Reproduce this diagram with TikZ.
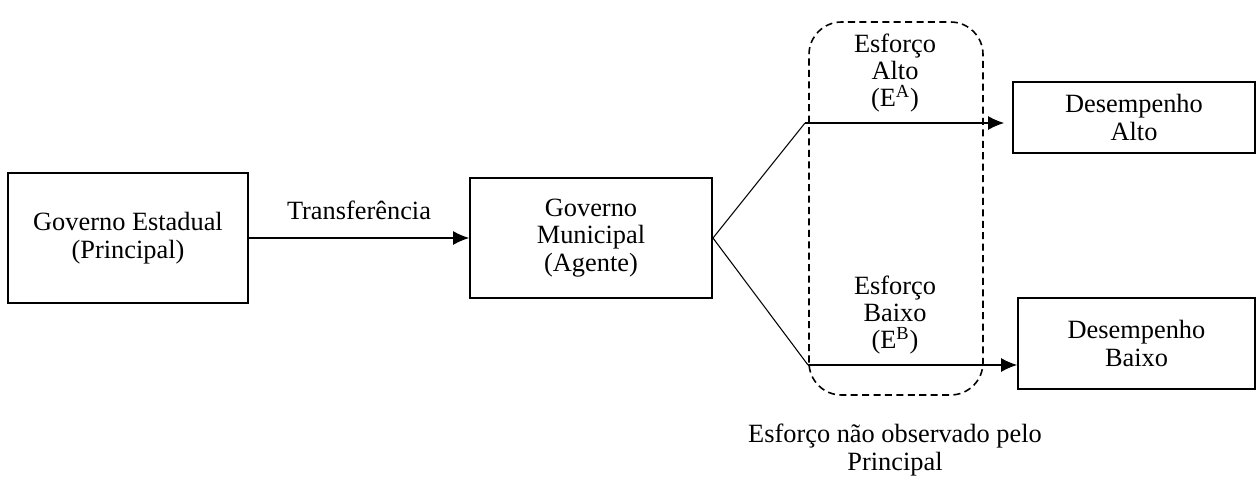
\documentclass[tikz,border=0pt]{standalone}
\usepackage{fontspec}
\setmainfont{Liberation Serif}
\usetikzlibrary{arrows.meta}

\tikzset{
  govbox/.style={draw, line width=1.1pt, align=center, inner sep=2pt},
  conn/.style={line width=0.6pt},
  arr/.style={conn, -{Latex[length=3.2mm,width=2.8mm]}},
  lbl/.style={align=center, inner sep=1pt}
}

\begin{document}
\begin{tikzpicture}[font=\fontsize{15}{15.6}\selectfont]
\useasboundingbox (0,0) rectangle (25.14,9.6);
% boxes
\node[govbox, minimum width=4.8cm, minimum height=2.6cm] (est) at (2.56,4.84) {Governo Estadual\\(Principal)};
\node[govbox, minimum width=4.84cm, minimum height=2.4cm] (mun) at (11.82,4.84) {Governo\\Municipal\\(Agente)};
\node[govbox, minimum width=4.84cm, minimum height=1.42cm] (alto) at (22.68,7.25) {Desempenho\\Alto};
\node[govbox, minimum width=4.74cm, minimum height=1.82cm] (baixo) at (22.73,2.73) {Desempenho\\Baixo};
% fork points
\coordinate (ua) at (16.1,7.14);
\coordinate (ub) at (16.16,2.3);
% connectors
\draw[arr] (est) -- (mun) node[lbl, midway, above=9pt] {Transfer\^encia};
\draw[conn] (mun.east) -- (ua);
\draw[conn] (mun.east) -- (ub);
\draw[arr, shorten >=0.16cm] (ua) -- (ua -| alto.west);
\draw[arr] (ub) -- (ub -| baixo.west);
% effort not observed
\draw[dashed, line width=0.9pt, dash pattern=on 4pt off 2.5pt, rounded corners=0.65cm] (16.18,1.7) rectangle (19.66,9.16);
\node[lbl] (ea) at (17.9,8.14) {Esfor\c{c}o\\Alto\\(E\textsuperscript{A})};
\node[lbl] (eb) at (17.9,3.3) {Esfor\c{c}o\\Baixo\\(E\textsuperscript{B})};
\node[lbl] (obs) at (17.9,0.6) {Esfor\c{c}o n\~ao observado pelo\\Principal};
\end{tikzpicture}
\end{document}
